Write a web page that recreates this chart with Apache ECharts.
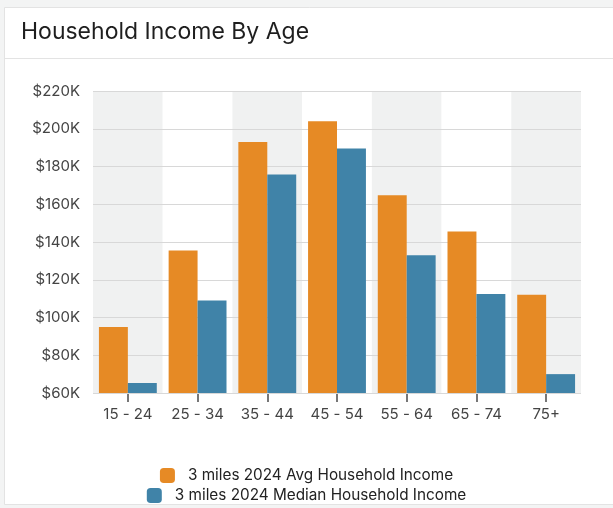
<!DOCTYPE html>
<html><head><meta charset="utf-8">
<script src="https://cdn.jsdelivr.net/npm/echarts@6/dist/echarts.min.js"></script>
<style>html,body{margin:0;padding:0;background:#f3f4f4;}#c{width:613px;height:508px;}</style>
</head><body><div id="c"></div>
<script>
const categories = ['15 - 24','25 - 34','35 - 44','45 - 54','55 - 64','65 - 74','75+'];
const avgIncome = [95000,135500,193000,204000,164800,145600,112000];
const medianIncome = [65300,109000,175800,189600,133000,112500,70000];
const seriesNames = ['3 miles 2024 Avg Household Income','3 miles 2024 Median Household Income'];

const chart = echarts.init(document.getElementById('c'));
const F = 'Inter, "Noto Sans", sans-serif';
const legendText = {fontSize:15.3,color:'#222',fontFamily:F,padding:[0,0,0,8]};
chart.setOption({
  animation:false,
  backgroundColor:'#f3f4f4',
  textStyle:{fontFamily:F},
  graphic:[
    {type:'rect',shape:{x:4.5,y:7.5,width:640,height:497},style:{fill:'#fff',stroke:'#e3e3e3',lineWidth:1},z:-10},
    {type:'line',shape:{x1:5,y1:58.5,x2:613,y2:58.5},style:{stroke:'#e3e3e3',lineWidth:1},z:-9},
    {type:'text',left:21,top:21,style:{text:'Household Income By Age',fontSize:23,fill:'#1e1e1e',fontFamily:F}}
  ],
  legend:[
    {data:[seriesNames[0]],top:463,left:'center',orient:'horizontal',itemWidth:15,itemHeight:15,icon:'roundRect',itemGap:5,textStyle:legendText},
    {data:[seriesNames[1]],top:483,left:'center',orient:'horizontal',itemWidth:15,itemHeight:15,icon:'roundRect',itemGap:5,textStyle:legendText}
  ],
  grid:{left:93,right:32,top:91,bottom:115,containLabel:false},
  xAxis:{type:'category',data:categories,z:0,
    axisLine:{show:false},
    axisTick:{show:true,alignWithLabel:true,length:9,lineStyle:{color:'#777',width:2}},
    axisLabel:{fontSize:15,color:'#444',margin:14,fontFamily:F},
    splitArea:{show:true,areaStyle:{color:['#f0f1f1','#ffffff']}}
  },
  yAxis:{type:'value',min:60000,max:220000,interval:20000,z:1,
    axisLine:{show:false},axisTick:{show:false},
    splitLine:{lineStyle:{color:'#d8d8d8'}},
    axisLabel:{fontSize:15,color:'#444',margin:13,fontFamily:F,formatter:v=>'$'+(v/1000)+'K'}
  },
  series:[
    {name:seriesNames[0],type:'bar',data:avgIncome,itemStyle:{color:'#e68a25'},barGap:'0%',barCategoryGap:'17%'},
    {name:seriesNames[1],type:'bar',data:medianIncome,itemStyle:{color:'#4083a8'},barGap:'0%',barCategoryGap:'17%'}
  ]
});
</script></body></html>
